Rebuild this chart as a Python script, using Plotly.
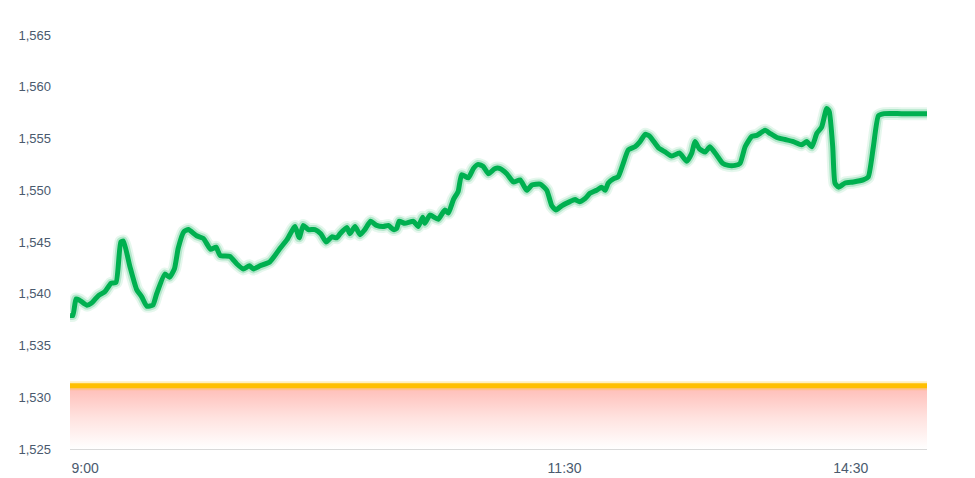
import plotly.graph_objects as go

# minutes since 9:00 (lunch break removed), price
MINUTES = [
    0, 0.9, 1.9, 2.9, 5.3, 6.8, 8.9, 11.0, 12.9, 14.5, 16.0, 16.8, 18.9, 21.0,
    22.6, 24.2, 26.1, 27.3, 29.9, 31.3, 32.9, 34.1, 35.9, 37.3, 39.9, 42.0,
    44.3, 46.0, 47.3, 50.4, 52.5, 54.6, 56.5, 57.8, 59.9, 63.0, 66.2, 68.3,
    70.9, 72.2, 73.5, 75.1, 77.2, 79.0, 80.7, 82.5, 84.0, 85.1, 87.2, 88.2,
    89.8, 91.4, 92.9, 94.7, 96.6, 98.7, 100.3, 101.9, 102.9, 103.7, 105.5,
    108.2, 109.7, 111.1, 111.8, 113.4, 116.0, 118.1, 119.2, 120.8, 122.3,
    123.4, 125.5, 127.1, 128.6, 130.2, 131.8, 133.9, 135.5, 137.6, 139.7,
    141.8, 143.9, 145.5, 148.1, 150.2, 151.8, 153.1, 154.9, 157.5, 159.1,
    160.5, 162.3, 163.8, 165.9, 167.5, 168.6, 169.6, 171.2, 172.7, 174.3,
    175.9, 178.0, 179.6, 181.2, 182.7, 185.4, 187.5, 189.6, 192.0, 194.3,
    195.9, 196.9, 198.3, 200.1, 201.6, 203.7, 205.6, 207.4, 209.5, 211.1,
    212.7, 214.8, 216.4, 219.0, 220.5, 222.7, 225.3, 227.9, 230.5, 232.1,
    233.7, 235.3, 236.8, 238.4, 239.2, 240.3, 241.0, 242.1, 244.2, 246.8,
    249.9, 251.5, 253.1, 254.7, 256.5, 262.0, 270,
]
PRICES = [
    1537.9, 1537.9, 1539.5, 1539.4, 1538.9, 1539.1, 1539.8, 1540.2, 1541.0,
    1541.1, 1545.0, 1545.1, 1542.6, 1540.4, 1539.7, 1538.8, 1538.9, 1540.0,
    1541.9, 1541.6, 1542.4, 1544.4, 1546.0, 1546.2, 1545.6, 1545.35, 1544.3,
    1544.5, 1543.7, 1543.6, 1542.9, 1542.4, 1542.7, 1542.4, 1542.7, 1543.1,
    1544.4, 1545.2, 1546.5, 1545.4, 1546.6, 1546.2, 1546.2, 1545.8, 1545.0,
    1545.5, 1545.4, 1545.8, 1546.4, 1545.8, 1546.5, 1545.7, 1546.2, 1547.0,
    1546.6, 1546.5, 1546.6, 1546.2, 1546.3, 1547.0, 1546.8, 1547.0, 1546.5,
    1547.4, 1546.8, 1547.6, 1547.2, 1548.1, 1547.8, 1549.1, 1549.9, 1551.5,
    1551.2, 1552.1, 1552.5, 1552.3, 1551.6, 1552.1, 1552.1, 1551.6, 1550.8,
    1551.0, 1550.0, 1550.5, 1550.6, 1550.0, 1548.5, 1548.1, 1548.5, 1548.9,
    1549.1, 1548.9, 1549.2, 1549.7, 1550.0, 1550.3, 1550.0, 1550.7, 1551.1,
    1551.3, 1552.6, 1553.9, 1554.2, 1554.7, 1555.4, 1555.2, 1554.1, 1553.7,
    1553.3, 1553.6, 1552.8, 1553.6, 1554.7, 1554.0, 1553.7, 1554.2, 1553.4,
    1552.6, 1552.4, 1552.4, 1552.6, 1554.2, 1555.2, 1555.3, 1555.8, 1555.5,
    1555.1, 1554.9, 1554.7, 1554.4, 1554.7, 1554.2, 1555.5, 1556.1, 1557.9,
    1557.6, 1554.2, 1550.7, 1550.3, 1550.7, 1550.8, 1551.0, 1551.3, 1554.2,
    1557.2, 1557.4, 1557.4, 1557.4,
]
PREV_CLOSE = 1531.1
SESSION = [0, 270]
TICK_MINUTES = [0, 150, 240]
TICK_LABELS = ["9:00", "11:30", "14:30"]
Y_TICKS = [1525, 1530, 1535, 1540, 1545, 1550, 1555, 1560, 1565]

GREEN = "#00b050"
GOLD = "#ffbf00"
LABEL_COLOR = "#4a5a6e"

fig = go.Figure()

# red gradient below previous close
fig.add_trace(go.Scatter(
    x=SESSION, y=[PREV_CLOSE] * 2, mode="lines", line=dict(width=0),
    fill="tozeroy",
    fillgradient=dict(
        type="vertical", start=1525, stop=PREV_CLOSE,
        colorscale=[[0, "#ffffff"], [0.5, "#ffe2df"], [1, "#ffbcb6"]],
    ),
    hoverinfo="skip",
))
fig.add_trace(go.Scatter(
    x=SESSION, y=[PREV_CLOSE] * 2, mode="lines",
    line=dict(color="rgba(255,191,0,0.25)", width=9), hoverinfo="skip",
))
fig.add_trace(go.Scatter(
    x=SESSION, y=[PREV_CLOSE] * 2, mode="lines",
    line=dict(color=GOLD, width=5),
))

# price line with a soft glow
for w, c in [(13, "rgba(0,176,80,0.10)"), (9, "rgba(0,176,80,0.22)")]:
    fig.add_trace(go.Scatter(
        x=MINUTES, y=PRICES, mode="lines",
        line=dict(color=c, width=w, shape="spline", smoothing=0.5),
        hoverinfo="skip",
    ))
fig.add_trace(go.Scatter(
    x=MINUTES, y=PRICES, mode="lines",
    line=dict(color=GREEN, width=5, shape="spline", smoothing=0.5),
))

# page body adds an 8px offset, so the figure is sized to compensate
fig.update_layout(
    width=967, height=470,
    margin=dict(l=62, r=48, t=27, b=29),
    paper_bgcolor="white", plot_bgcolor="white",
    showlegend=False,
    font=dict(family="Liberation Sans, Arial, sans-serif", color=LABEL_COLOR),
    xaxis=dict(
        range=SESSION, showgrid=False, zeroline=False, automargin=False,
        showline=True, linecolor="#d9d9d9", linewidth=1,
        tickvals=TICK_MINUTES, ticktext=TICK_LABELS,
        ticklabelposition="outside right", ticklabelstandoff=6,
        ticklabelshift=1,
        tickfont=dict(size=14, color=LABEL_COLOR),
    ),
    yaxis=dict(
        range=[1525, 1565], showgrid=False, zeroline=False, showline=False,
        automargin=False,
        tickvals=Y_TICKS, tickformat=",d",
        ticklabelstandoff=18,
        tickfont=dict(size=13, color=LABEL_COLOR),
    ),
)

fig.write_html("out.html")
